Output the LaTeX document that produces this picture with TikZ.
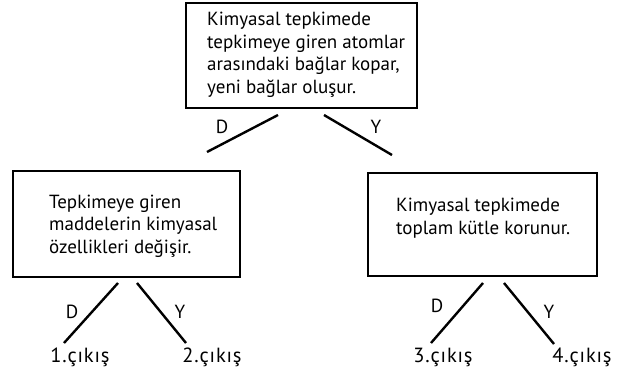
\documentclass[tikz,border=0pt]{standalone}
\usepackage{fontspec}
\setmainfont{PT Sans}
\begin{document}
\begin{tikzpicture}[x=1pt,y=-1pt,
  box/.style={draw, line width=2pt, rectangle, inner sep=0pt},
  txt/.style={align=left, font=\fontsize{19}{22.5}\selectfont, inner sep=0pt},
  lbl/.style={font=\fontsize{19}{22}\selectfont, inner sep=0pt},
  outl/.style={font=\fontsize{20.5}{22}\selectfont\addfontfeature{LetterSpace=4}, inner sep=0pt},
  br/.style={line width=2.4pt}]
\useasboundingbox (0,0) rectangle (639,374);
% boxes
\node[box, minimum width=231pt, minimum height=105pt] (top) at (301.5,55.5) {};
\node[box, minimum width=227pt, minimum height=106pt] (left) at (126.5,224) {};
\node[box, minimum width=229pt, minimum height=103pt] (right) at (482.5,224.5) {};
% texts
\node[txt, anchor=west] (ttop) at (207,55) {Kimyasal tepkimede\\tepkimeye giren atomlar\\arasındaki bağlar kopar,\\yeni bağlar oluşur.};
\node[txt, anchor=west] (tleft) at (49,226) {Tepkimeye giren\\maddelerin kimyasal\\özellikleri değişir.};
\node[txt, anchor=west] (tright) at (396,218) {Kimyasal tepkimede\\toplam kütle korunur.};
% branch end points
\coordinate (a1) at (278,115); \coordinate (a2) at (207,152);
\coordinate (b1) at (324,115); \coordinate (b2) at (392,155);
\coordinate (c1) at (118,283); \coordinate (c2) at (64,343);
\coordinate (d1) at (137,283); \coordinate (d2) at (186,343);
\coordinate (e1) at (483,283); \coordinate (e2) at (431,343);
\coordinate (f1) at (504,283); \coordinate (f2) at (554,344);
\draw[br] (a1) -- (a2);
\draw[br] (b1) -- (b2);
\draw[br] (c1) -- (c2);
\draw[br] (d1) -- (d2);
\draw[br] (e1) -- (e2);
\draw[br] (f1) -- (f2);
% D / Y labels
\node[lbl] (la) at (222,127) {D};
\node[lbl] (lb) at (376,127) {Y};
\node[lbl] (lc) at (72,312) {D};
\node[lbl] (ld) at (180,312) {Y};
\node[lbl] (le) at (437,306) {D};
\node[lbl] (lf) at (549,312) {Y};
% outputs
\node[outl] (o1) at (80,357) {1.çıkış};
\node[outl] (o2) at (212,357) {2.çıkış};
\node[outl] (o3) at (443,357) {3.çıkış};
\node[outl] (o4) at (582,357) {4.çıkış};
\end{tikzpicture}
\end{document}
